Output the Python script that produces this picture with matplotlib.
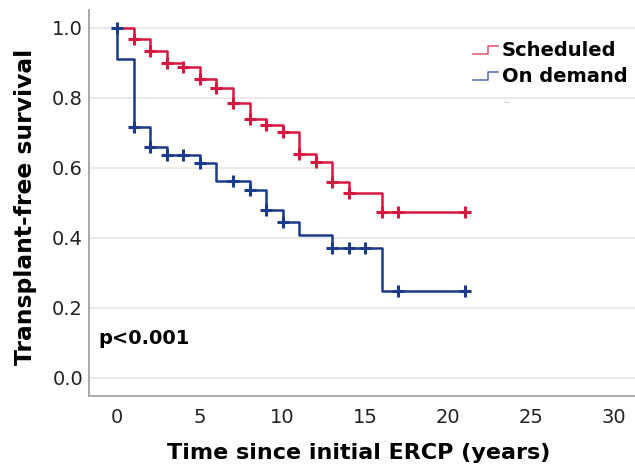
import numpy as np
import matplotlib
matplotlib.use("Agg")
import matplotlib.pyplot as plt
from matplotlib.lines import Line2D
from matplotlib.legend_handler import HandlerBase

# Kaplan-Meier step data
sched_times = [0, 1, 2, 3, 4, 5, 6, 7, 8, 9, 10, 11, 12, 13, 14, 16, 21]
sched_surv = [1.0, 0.968, 0.935, 0.901, 0.888, 0.854, 0.828, 0.787, 0.740,
              0.723, 0.702, 0.641, 0.616, 0.559, 0.529, 0.475, 0.475]
sched_censor = [1, 2, 3, 4, 5, 6, 7, 8, 9, 10, 11, 12, 13, 14, 16, 17, 21]

demand_times = [0, 0, 1, 2, 3, 5, 6, 8, 9, 10, 11, 13, 16, 21]
demand_surv = [1.0, 0.911, 0.716, 0.659, 0.637, 0.613, 0.563, 0.536, 0.479,
               0.446, 0.409, 0.371, 0.249, 0.249]
demand_censor = [1, 2, 3, 4, 5, 7, 8, 9, 10, 13, 14, 15, 17, 21]
demand_start_mark = [0]

group_labels = ["Scheduled", "On demand"]
RED = "#d8173f"
BLUE = "#1c3a8a"


def surv_at(times, surv, t):
    idx = np.searchsorted(times, t, side="right") - 1
    return np.asarray(surv)[idx]


class StepHandler(HandlerBase):
    def create_artists(self, legend, orig_handle, xdescent, ydescent,
                       width, height, fontsize, trans):
        x0 = -xdescent
        lo = -ydescent + 0.15 * height
        hi = -ydescent + 0.75 * height
        xs = [x0, x0 + 0.6 * width, x0 + 0.6 * width, x0 + width]
        ys = [lo, lo, hi, hi]
        ln = Line2D(xs, ys, color=orig_handle.get_color(), lw=1.1, alpha=0.75)
        ln.set_transform(trans)
        return [ln]


fig = plt.figure(figsize=(6.35, 4.69), dpi=100)
ax = fig.add_axes([0.1406, 0.1557, 0.8594, 0.8230])

for y in [0.0, 0.2, 0.4, 0.6, 0.8, 1.0]:
    ax.axhline(y, color="#e6e6e6", lw=1.2, zorder=0)

h1, = ax.step(sched_times, sched_surv, where="post", color=RED, lw=1.8)
ax.plot(sched_censor, surv_at(sched_times, sched_surv, sched_censor), "+",
        color=RED, ms=8, mew=2.2)

h2, = ax.step(demand_times, demand_surv, where="post", color=BLUE, lw=1.8)
ax.plot(demand_censor, surv_at(demand_times, demand_surv, demand_censor), "+",
        color=BLUE, ms=8, mew=2.2)
ax.plot(demand_start_mark, [1.0], "+", color=BLUE, ms=8, mew=2.2)

ax.set_xlim(-1.69, 31.3)
ax.set_ylim(-0.0514, 1.0514)
ax.set_xticks([0, 5, 10, 15, 20, 25, 30])
ax.set_yticks([0.0, 0.2, 0.4, 0.6, 0.8, 1.0])
ax.set_yticklabels(["0.0", "0.2", "0.4", "0.6", "0.8", "1.0"])
ax.tick_params(axis="both", length=0, labelsize=14, labelcolor="#222222")
ax.tick_params(axis="x", pad=9)
ax.tick_params(axis="y", pad=4.5)

for s in ["top", "right"]:
    ax.spines[s].set_visible(False)
for s in ["left", "bottom"]:
    ax.spines[s].set_color("#aaaaaa")
    ax.spines[s].set_linewidth(1.4)

ax.set_xlabel("Time since initial ERCP (years)", fontsize=16, fontweight="bold")
ax.set_ylabel("Transplant-free survival", fontsize=16.8, fontweight="bold")
ax.xaxis.label.set_verticalalignment("center")
ax.yaxis.label.set_verticalalignment("center")
ax.xaxis.set_label_coords(0.494, -0.148)
ax.yaxis.set_label_coords(-0.116, 0.49)

ax.text(0.016, 0.150, "p<0.001", transform=ax.transAxes, fontsize=14,
        fontweight="bold", ha="left", va="center")

leg = ax.legend([h1, h2], group_labels, handler_map={Line2D: StepHandler()},
                loc="upper left", bbox_to_anchor=(473 / 635, 1 - 41 / 469),
                bbox_transform=fig.transFigure, frameon=False, borderpad=0,
                borderaxespad=0, handlelength=1.29, handletextpad=0.2,
                labelspacing=0.35, prop={"size": 14, "weight": "bold"})

fig.text(503 / 635, 1 - 101 / 469, "...", fontsize=5, color="#888888",
         ha="left", va="center")

fig.savefig("out.png", dpi=100)
